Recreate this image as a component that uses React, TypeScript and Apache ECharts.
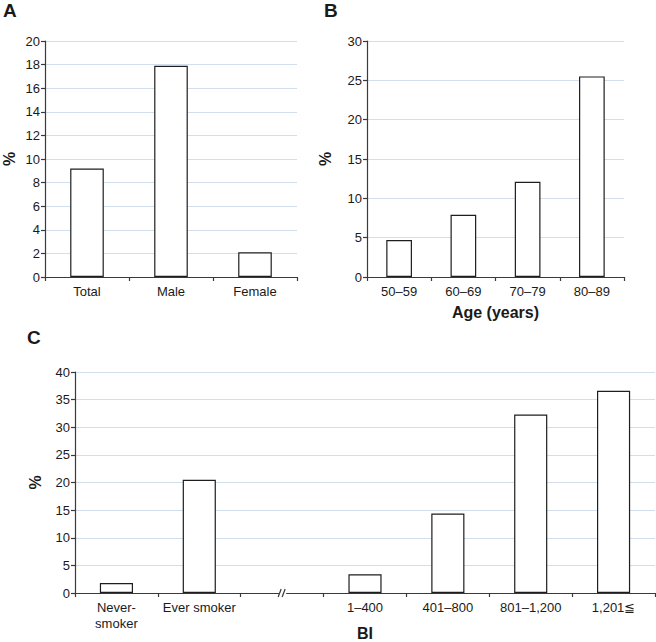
import React, { useEffect, useRef } from "react";
import * as echarts from "echarts";

const sexCategories = ["Total", "Male", "Female"];
const sexValues = [9.2, 17.9, 2.1];
const sexTicks = { min: 0, max: 20, interval: 2 };

const ageCategories = ["50–59", "60–69", "70–79", "80–89"];
const ageValues = [4.7, 7.9, 12.1, 25.5];
const ageTicks = { min: 0, max: 30, interval: 5 };

const smokeCategories = ["Never-\nsmoker", "Ever smoker", "", "1–400", "401–800", "801–1,200", "1,201≦"];
const smokeValues: (number | null)[] = [1.8, 20.5, null, 3.4, 14.4, 32.3, 36.6];
const smokeTicks = { min: 0, max: 40, interval: 5 };

const FONT = "'Liberation Sans', Arial, Helvetica, sans-serif";
const AXIS = "#3a3a3a";
const GRID = "#d3deec";
const TXT = "#1a1a1a";

function xAxis(gridIndex: number, data: string[], name: string, nameGap: number) {
  return {
    type: "category",
    gridIndex,
    data,
    name,
    nameLocation: "middle",
    nameGap,
    nameMoveOverlap: false,
    nameTextStyle: { fontFamily: FONT, fontWeight: "bold", fontSize: 16, color: TXT },
    axisLine: { show: true, lineStyle: { color: AXIS, width: 1.2 } },
    axisTick: { show: true, length: 4, lineStyle: { color: AXIS, width: 1.2 } },
    axisLabel: { fontFamily: FONT, fontSize: 13, color: TXT, margin: 6, lineHeight: 16, interval: 0 },
    splitLine: { show: false },
  };
}

function yAxis(gridIndex: number, t: { min: number; max: number; interval: number }, nameGap: number) {
  return {
    type: "value",
    gridIndex,
    min: t.min,
    max: t.max,
    interval: t.interval,
    name: "%",
    nameLocation: "middle",
    nameRotate: 90,
    nameGap,
    nameMoveOverlap: false,
    nameTextStyle: { fontFamily: FONT, fontWeight: "bold", fontSize: 16, color: TXT },
    axisLine: { show: true, lineStyle: { color: AXIS, width: 1.2 } },
    axisTick: { show: true, length: 4, lineStyle: { color: AXIS, width: 1.2 } },
    axisLabel: { fontFamily: FONT, fontSize: 13, color: TXT, margin: 5 },
    splitLine: { show: true, lineStyle: { color: GRID, width: 1 } },
  };
}

function bars(idx: number, data: (number | null)[]) {
  return {
    type: "bar",
    xAxisIndex: idx,
    yAxisIndex: idx,
    data,
    barWidth: "40%",
    itemStyle: { color: "#ffffff", borderColor: "#1e1e1e", borderWidth: 1.2 },
    silent: true,
  };
}

export default function App() {
  const ref = useRef<HTMLDivElement>(null);
  useEffect(() => {
    if (!ref.current) return;
    const chart = echarts.init(ref.current, undefined, { renderer: "svg" });
    const option: any = {
      animation: false,
      backgroundColor: "#ffffff",
      grid: [
        { left: 45, top: 41, width: 252, height: 236, containLabel: false, outerBoundsMode: "none" },
        { left: 367, top: 41, width: 257, height: 236, containLabel: false, outerBoundsMode: "none" },
        { left: 75, top: 372, width: 580, height: 221, containLabel: false, outerBoundsMode: "none" },
      ],
      xAxis: [
        xAxis(0, sexCategories, "", 30),
        xAxis(1, ageCategories, "Age (years)", 27),
        xAxis(2, smokeCategories, "BI", 32),
      ],
      yAxis: [yAxis(0, sexTicks, 28), yAxis(1, ageTicks, 34), yAxis(2, smokeTicks, 32)],
      series: [bars(0, sexValues), bars(1, ageValues), bars(2, smokeValues)],
    };
    chart.setOption(option);

    const bp = chart.convertToPixel({ xAxisIndex: 2, yAxisIndex: 2 } as any, [2, 0]) as number[];
    const bx = bp[0];
    const by = bp[1];
    const letter = (t: string, x: number, y: number) => ({
      type: "text",
      x,
      y,
      style: { text: t, fontFamily: FONT, fontWeight: "bold", fontSize: 19, fill: TXT },
    });
    chart.setOption({
      graphic: [
        letter("A", 3, 1),
        letter("B", 324, 1),
        letter("C", 27, 328),
        { type: "rect", shape: { x: bx - 3, y: by - 3, width: 7, height: 6 }, style: { fill: "#ffffff" }, z: 100 },
        { type: "line", shape: { x1: bx - 4, y1: by + 4, x2: bx - 1, y2: by - 4 }, style: { stroke: AXIS, lineWidth: 1.2 }, z: 101 },
        { type: "line", shape: { x1: bx, y1: by + 4, x2: bx + 3, y2: by - 4 }, style: { stroke: AXIS, lineWidth: 1.2 }, z: 101 },
      ],
    });
    return () => chart.dispose();
  }, []);
  return <div ref={ref} style={{ position: "fixed", left: 0, top: 0, width: 656, height: 642 }} />;
}
